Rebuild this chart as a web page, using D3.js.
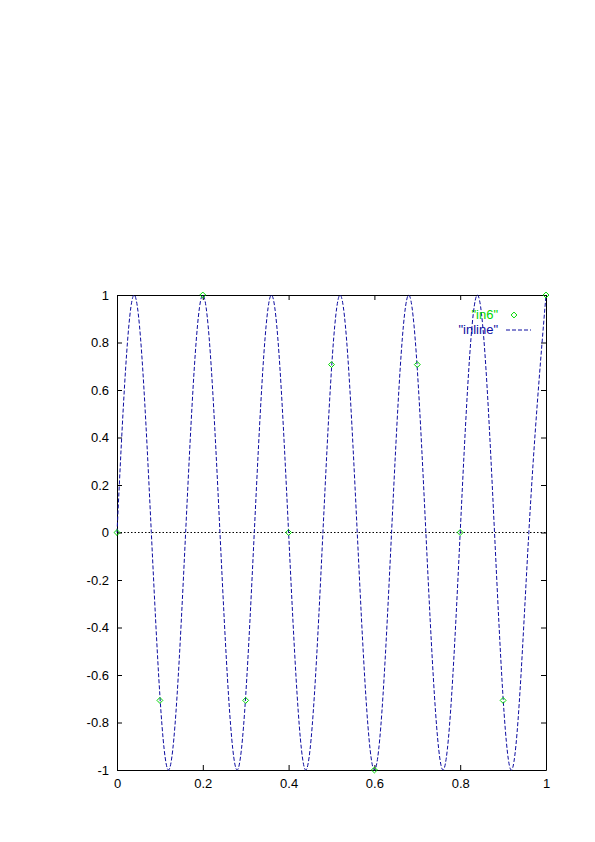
<!DOCTYPE html>
<html>
<head>
<meta charset="utf-8">
<script src="https://cdn.jsdelivr.net/npm/d3@7"></script>
<style>
  body { margin: 0; background: white; }
  svg { display: block; }
</style>
</head>
<body>
<div id="chart"></div>
<script>
// sampled points ("in6")
const pointX = [0, 0.1, 0.2, 0.3, 0.4, 0.5, 0.6, 0.7, 0.8, 0.9, 1.0]
const pointY = [0, -0.707, 1, -0.707, 0, 0.707, -1, 0.707, 0, -0.707, 1]

const lineX = [0, 0.04, 0.08, 0.12, 0.16, 0.20, 0.24, 0.28, 0.32, 0.36, 0.40, 0.44, 0.48,
               0.52, 0.56, 0.60, 0.64, 0.68, 0.72, 0.76, 0.80, 0.84, 0.88, 0.92, 0.96, 1.0]
const lineY = [0, 1, 0, -1, 0, 1, 0, -1, 0, 1, 0, -1, 0,
               1, 0, -1, 0, 1, 0, -1, 0, 1, 0, -1, 0, 1]

const xTicks = [0, 0.2, 0.4, 0.6, 0.8, 1]
const yTicks = [-1, -0.8, -0.6, -0.4, -0.2, 0, 0.2, 0.4, 0.6, 0.8, 1]
const seriesNames = ["\"in6\"", "\"inline\""]

var W = 595, H = 842
var margin = {top: 295, right: 49, bottom: 72, left: 117}
var width = W - margin.left - margin.right,
    height = H - margin.top - margin.bottom

var green = "#00d800", blue = "#0c0ca0"

var svg = d3.select("#chart").append("svg")
    .attr("width", W).attr("height", H)
    .style("font-family", "'Liberation Sans', Arial, sans-serif")
    .style("font-size", "13px")
  .append("g")
    .attr("transform", "translate(" + margin.left + "," + margin.top + ")")

var x = d3.scaleLinear().domain([0, 1]).range([0, width])
var y = d3.scaleLinear().domain([-1, 1]).range([height, 0])

// plain hyphen minus like gnuplot
var fmt = d => String(d)

// axes with ticks pointing inward, mirrored on top/right
svg.append("g")
    .attr("transform", "translate(0," + height + ")")
    .call(d3.axisBottom(x).tickValues(xTicks).tickSizeInner(-5).tickSizeOuter(0).tickPadding(9)
        .tickFormat(fmt))
svg.append("g")
    .call(d3.axisTop(x).tickValues(xTicks).tickSizeInner(-5).tickSizeOuter(0).tickFormat(""))
svg.append("g")
    .call(d3.axisLeft(y).tickValues(yTicks).tickSizeInner(-5).tickSizeOuter(0).tickPadding(8)
        .tickFormat(fmt))
svg.append("g")
    .attr("transform", "translate(" + width + ",0)")
    .call(d3.axisRight(y).tickValues(yTicks).tickSizeInner(-5).tickSizeOuter(0).tickFormat(""))

svg.selectAll(".domain").attr("stroke", "black")
svg.selectAll(".tick line").attr("stroke", "black")
svg.selectAll(".tick text").attr("fill", "black").style("font-size", "13px")

// zero axis
svg.append("line")
    .attr("x1", 0).attr("x2", width)
    .attr("y1", y(0)).attr("y2", y(0))
    .attr("stroke", "black")
    .attr("stroke-dasharray", "1.5,2")

// the curve
var lineData = lineX.map((d, i) => [d, lineY[i]])
svg.append("path")
    .datum(lineData)
    .attr("fill", "none")
    .attr("stroke", blue)
    .attr("stroke-width", 1)
    .attr("stroke-dasharray", "4,2")
    .attr("d", d3.line().x(d => x(d[0])).y(d => y(d[1])).curve(d3.curveNatural))

// the points
var diamond = d3.symbol().type(d3.symbolDiamond2).size(22)
svg.selectAll(".pt")
    .data(pointX.map((d, i) => [d, pointY[i]]))
    .enter()
    .append("path")
    .attr("transform", d => "translate(" + x(d[0]) + "," + y(d[1]) + ")")
    .attr("d", diamond)
    .attr("fill", "none")
    .attr("stroke", green)

// legend
var legend = svg.append("g")
legend.append("text")
    .attr("x", 381).attr("y", 24)
    .attr("text-anchor", "end")
    .attr("fill", green)
    .text(seriesNames[0])
legend.append("path")
    .attr("transform", "translate(397,20)")
    .attr("d", diamond)
    .attr("fill", "none")
    .attr("stroke", green)
legend.append("text")
    .attr("x", 381).attr("y", 39)
    .attr("text-anchor", "end")
    .attr("fill", blue)
    .text(seriesNames[1])
legend.append("line")
    .attr("x1", 389).attr("x2", 414)
    .attr("y1", 35).attr("y2", 35)
    .attr("stroke", blue)
    .attr("stroke-dasharray", "4,2")
</script>
</body>
</html>
